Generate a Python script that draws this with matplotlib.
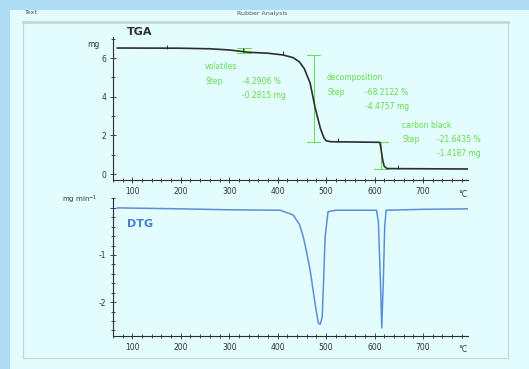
import numpy as np
import matplotlib.pyplot as plt
from matplotlib.patches import Rectangle
from matplotlib.lines import Line2D
from matplotlib.ticker import MultipleLocator

# TGA curve (temperature in degC, mass in mg)
tga_T = [69, 200, 260, 300, 340, 380, 411, 432, 445, 455, 467, 477, 488, 495, 500, 510, 611, 614, 617, 620, 626, 793]
tga_m = [6.52, 6.51, 6.48, 6.42, 6.30, 6.25, 6.16, 6.02, 5.80, 5.45, 4.71, 3.47, 2.38, 1.90, 1.72, 1.67, 1.64, 1.20, 0.70, 0.40, 0.28, 0.26]

# DTG curve (mg/min)
dtg_T = [69, 200, 300, 405, 432, 445, 453, 460, 467, 477, 484, 488, 492, 495, 498, 504, 520,
         604, 608, 612, 615, 618, 621, 624, 700, 793]
dtg_v = [0.0, -0.02, -0.04, -0.05, -0.15, -0.35, -0.62, -0.95, -1.32, -2.02, -2.45, -2.47, -2.32, -1.5, -0.62, -0.08, -0.05,
         -0.05, -0.3, -1.5, -2.55, -1.6, -0.4, -0.05, -0.03, -0.02]

# evaluated steps
step_names = ["volatiles", "decomposition", "carbon black"]
step_pct = ["-4.2906 %", "-68.2122 %", "-21.6435 %"]
step_mg = ["-0.2815 mg", "-4.4757 mg", "-1.4187 mg"]
step_T = [330, 474, 613]
step_top = [6.52, 6.16, 1.66]
step_bot = [6.24, 1.66, 0.28]

# small limit marks on the TGA curve
mark_T = [172, 329, 411, 525, 648]

green = "#66dd4c"
ink = "#2e2e2e"
blue = "#5a8fd8"

fig = plt.figure(figsize=(5.29, 3.69), dpi=100)
fig.patch.set_facecolor("#aedcf5")

# light panel and frame
fig.patches.append(Rectangle((10 / 529, 0), 1, 1 - 10 / 369, transform=fig.transFigure,
                             facecolor="#e3fcfd", edgecolor="none", zorder=-5))
fx = lambda px: px / 529
fy = lambda py: 1 - py / 369
frame = dict(transform=fig.transFigure, color="#c5d6d6", zorder=-4)
fig.lines.append(Line2D([fx(23), fx(508)], [fy(22), fy(22)], lw=2, **frame))
fig.lines.append(Line2D([fx(23), fx(23)], [fy(22), fy(358)], lw=0.8, **frame))
fig.lines.append(Line2D([fx(23), fx(508)], [fy(358), fy(358)], lw=0.8, **frame))
fig.lines.append(Line2D([fx(508), fx(508)], [fy(22), fy(358)], lw=0.8, **frame))

fig.text(fx(25), fy(13), "Text", fontsize=4.5, color="#555555", va="center")
fig.text(fx(262), fy(13), "Rubber Analysis", fontsize=4.5, color="#555555", va="center", ha="center")

ax1 = fig.add_axes([fx(113), fy(180), fx(468) - fx(113), fy(37) - fy(180)])
ax2 = fig.add_axes([fx(113), fy(336), fx(468) - fx(113), fy(198) - fy(336)])

for ax in (ax1, ax2):
    ax.set_facecolor("none")
    for s in ("top", "right"):
        ax.spines[s].set_visible(False)
    for s in ("left", "bottom"):
        ax.spines[s].set_color(ink)
        ax.spines[s].set_linewidth(0.8)
    ax.set_xlim(60, 793)
    ax.xaxis.set_minor_locator(MultipleLocator(20))
    ax.set_xticks(range(100, 800, 100))
    ax.tick_params(which="both", direction="inout", color=ink, width=0.6,
                   labelsize=5.5, labelcolor="#333333")
    ax.tick_params(which="major", length=4, pad=3)
    ax.tick_params(which="minor", length=2.5)
    ax.text(0.985, -0.1, "°C", transform=ax.transAxes,
            fontsize=5.5, color="#333333", ha="center", va="center")

# TGA
ax1.plot(tga_T, tga_m, color=ink, lw=1.2, zorder=3)
ax1.plot(mark_T, np.interp(mark_T, tga_T, tga_m) + 0.08, "|", color=ink, ms=3.5, mew=0.7, zorder=3)
ax1.set_ylim(-0.31, 7.09)
ax1.set_yticks([0, 2, 4, 6])
ax1.yaxis.set_minor_locator(MultipleLocator(1))
ax1.text(-0.037, 0.95, "mg", transform=ax1.transAxes, fontsize=5.5, ha="right", va="center", color="#333333")
ax1.text(0.04, 1.0, "TGA", transform=ax1.transAxes, fontsize=8, fontweight="bold", color=ink, va="bottom")

for T, top, bot in zip(step_T, step_top, step_bot):
    ax1.plot([T, T], [top, bot], color=green, lw=0.7, zorder=2)
    ax1.plot([T - 14, T + 14], [top, top], color=green, lw=0.7, zorder=2)
    ax1.plot([T - 14, T + 14], [bot, bot], color=green, lw=0.7, zorder=2)

# annotation layout (left edges in degC, rows in mg)
lab_x = [250, 502, 657]
val_x = [327, 580, 729]
lab_y = [5.54, 4.97, 2.53]
row = 0.74
for name, pct, mg, lx, vx, ly in zip(step_names, step_pct, step_mg, lab_x, val_x, lab_y):
    kw = dict(fontsize=5.5, color=green, va="center")
    ax1.text(lx, ly, name, **kw)
    ax1.text(lx, ly - row, "Step", **kw)
    ax1.text(vx, ly - row, pct, **kw)
    ax1.text(vx, ly - 2 * row, mg, **kw)

# DTG
ax2.plot(dtg_T, dtg_v, color=blue, lw=1.1, zorder=3)
ax2.set_ylim(-2.72, 0.21)
ax2.set_yticks([-2, -1, 0])
ax2.set_yticklabels(["-2", "-1", ""])
ax2.yaxis.set_minor_locator(MultipleLocator(0.2))
ax2.text(-0.045, 0.985, "mg min$^{-1}$", transform=ax2.transAxes, fontsize=5, ha="right", va="center", color="#333333")
ax2.text(0.04, 0.81, "DTG", transform=ax2.transAxes, fontsize=8, fontweight="bold", color="#4a7fd0", va="center")

fig.savefig("out.png", dpi=100, facecolor=fig.get_facecolor())
